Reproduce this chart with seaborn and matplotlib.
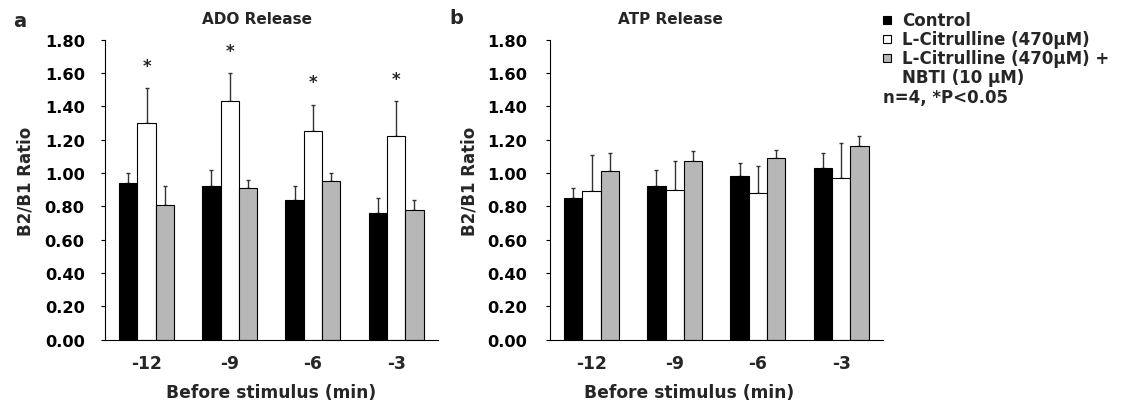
import numpy as np
import pandas as pd
import matplotlib
matplotlib.use("Agg")
import matplotlib.pyplot as plt
from matplotlib.patches import Rectangle
import seaborn as sns

# ---------------- data ----------------
times = ["-12", "-9", "-6", "-3"]
groups = ["Control", "L-Citrulline (470µM)", "L-Citrulline (470µM) + NBTI (10 µM)"]

ado_control = [0.94, 0.92, 0.84, 0.76]
ado_control_err = [0.06, 0.10, 0.08, 0.09]
ado_cit = [1.30, 1.43, 1.25, 1.22]
ado_cit_err = [0.21, 0.17, 0.16, 0.21]
ado_nbti = [0.81, 0.91, 0.95, 0.78]
ado_nbti_err = [0.11, 0.05, 0.05, 0.06]

atp_control = [0.85, 0.92, 0.98, 1.03]
atp_control_err = [0.06, 0.10, 0.08, 0.09]
atp_cit = [0.89, 0.90, 0.88, 0.97]
atp_cit_err = [0.22, 0.17, 0.16, 0.21]
atp_nbti = [1.01, 1.07, 1.09, 1.16]
atp_nbti_err = [0.11, 0.06, 0.05, 0.06]

ado_sig = [True, True, True, True]   # '*' above L-Citrulline bars

yticks = [0.0, 0.2, 0.4, 0.6, 0.8, 1.0, 1.2, 1.4, 1.6, 1.8]
colors = ["#000000", "#ffffff", "#b7b7b7"]

# ---------------- style ----------------
sns.set_style("ticks")
plt.rcParams["font.family"] = ["DejaVu Sans"]
plt.rcParams["font.weight"] = "bold"

W, H = 1122, 406
fig = plt.figure(figsize=(W / 100, H / 100), dpi=100)

def fx(px):
    return px / W

def fy(py):
    return 1 - py / H

ax_top, ax_bot = 40.7, 340.7
axw = 332.7
ax_a = fig.add_axes([fx(105), fy(ax_bot), fx(axw), (ax_bot - ax_top) / H])
ax_b = fig.add_axes([fx(550), fy(ax_bot), fx(axw), (ax_bot - ax_top) / H])


def make_df(c, ci, n):
    rows = []
    for g, vals in zip(groups, [c, ci, n]):
        for t, v in zip(times, vals):
            rows.append({"time": t, "group": g, "value": v})
    return pd.DataFrame(rows)


def draw(ax, c, ce, ci, cie, n, ne, title, tick_pad, title_x, xlabel_x, sig=None):
    df = make_df(c, ci, n)
    sns.barplot(data=df, x="time", y="value", hue="group", order=times,
                hue_order=groups, palette=colors, saturation=1, width=0.66,
                edgecolor="black", linewidth=0.8, errorbar=None, legend=False,
                ax=ax, zorder=2)
    errs = [ce, cie, ne]
    for k, (cont, e) in enumerate(zip(ax.containers, errs)):
        xs = [p.get_x() + p.get_width() / 2 for p in cont]
        hs = [p.get_height() for p in cont]
        ax.errorbar(xs, hs, yerr=[np.zeros(len(e)), e], fmt="none",
                    ecolor="#333333", elinewidth=1.0, capsize=1.6,
                    capthick=1.0, zorder=1)
        if sig is not None and k == 1:
            for x, h, er, s in zip(xs, hs, e, sig):
                if s:
                    ax.annotate("*", (x, h + er), xytext=(0, 12.5),
                                textcoords="offset points", ha="center",
                                va="baseline", fontsize=12, fontweight="bold")
    ax.set_ylim(0, 1.8)
    ax.set_xlim(-0.5, 3.5)
    ax.set_yticks(yticks)
    ax.set_yticklabels([f"{v:.2f}" for v in yticks])
    ax.tick_params(axis="y", length=4.3 * 0.72, width=0.8, pad=tick_pad,
                   labelsize=11.7, colors="black", direction="out")
    ax.tick_params(axis="x", length=0, pad=10, labelsize=12.3)
    for lab in ax.get_xticklabels() + ax.get_yticklabels():
        lab.set_fontweight("bold")
    sns.despine(ax=ax)
    ax.spines["left"].set_linewidth(0.8)
    ax.spines["bottom"].set_linewidth(0.8)
    ax.spines["left"].set_color("black")
    ax.spines["bottom"].set_color("black")
    ax.set_xlabel("")
    ax.set_ylabel("")
    fig.text(fx(title_x), fy(19), title, ha="center", va="center",
             fontsize=11, fontweight="bold")
    fig.text(fx(xlabel_x), fy(393), "Before stimulus (min)", ha="center",
             va="center", fontsize=12.3, fontweight="bold")


draw(ax_a, ado_control, ado_control_err, ado_cit, ado_cit_err, ado_nbti,
     ado_nbti_err, "ADO Release", 11.5, 257, 271, sig=ado_sig)
draw(ax_b, atp_control, atp_control_err, atp_cit, atp_cit_err, atp_nbti,
     atp_nbti_err, "ATP Release", 13.2, 670, 689)

# y labels
fig.text(fx(25.7), fy(181), "B2/B1 Ratio", rotation=90, ha="center",
         va="center", fontsize=12, fontweight="bold")
fig.text(fx(470), fy(181), "B2/B1 Ratio", rotation=90, ha="center",
         va="center", fontsize=12, fontweight="bold")

# panel letters
fig.text(fx(20), fy(21.5), "a", ha="center", va="center", fontsize=14,
         fontweight="bold")
fig.text(fx(456), fy(19), "b", ha="center", va="center", fontsize=14,
         fontweight="bold")

# legend
leg_rows = [20.7, 40.0, 59.3]
for ypx, col in zip(leg_rows, colors):
    fig.patches.append(Rectangle((fx(883), fy(ypx + 4)), fx(8), 8 / H,
                                 transform=fig.transFigure, facecolor=col,
                                 edgecolor="black", linewidth=0.8))
fig.text(fx(902), fy(20.7), "Control", ha="left", va="center", fontsize=12,
         fontweight="bold")
fig.text(fx(902), fy(40.0), "L-Citrulline (470µM)", ha="left", va="center",
         fontsize=12, fontweight="bold")
fig.text(fx(902), fy(59.3), "L-Citrulline (470µM) +", ha="left", va="center",
         fontsize=12, fontweight="bold")
fig.text(fx(902), fy(78.3), "NBTI (10 µM)", ha="left", va="center",
         fontsize=12, fontweight="bold")
fig.text(fx(883), fy(98.3), "n=4, *P<0.05", ha="left", va="center",
         fontsize=12, fontweight="bold")

fig.savefig("out.png", dpi=100)
